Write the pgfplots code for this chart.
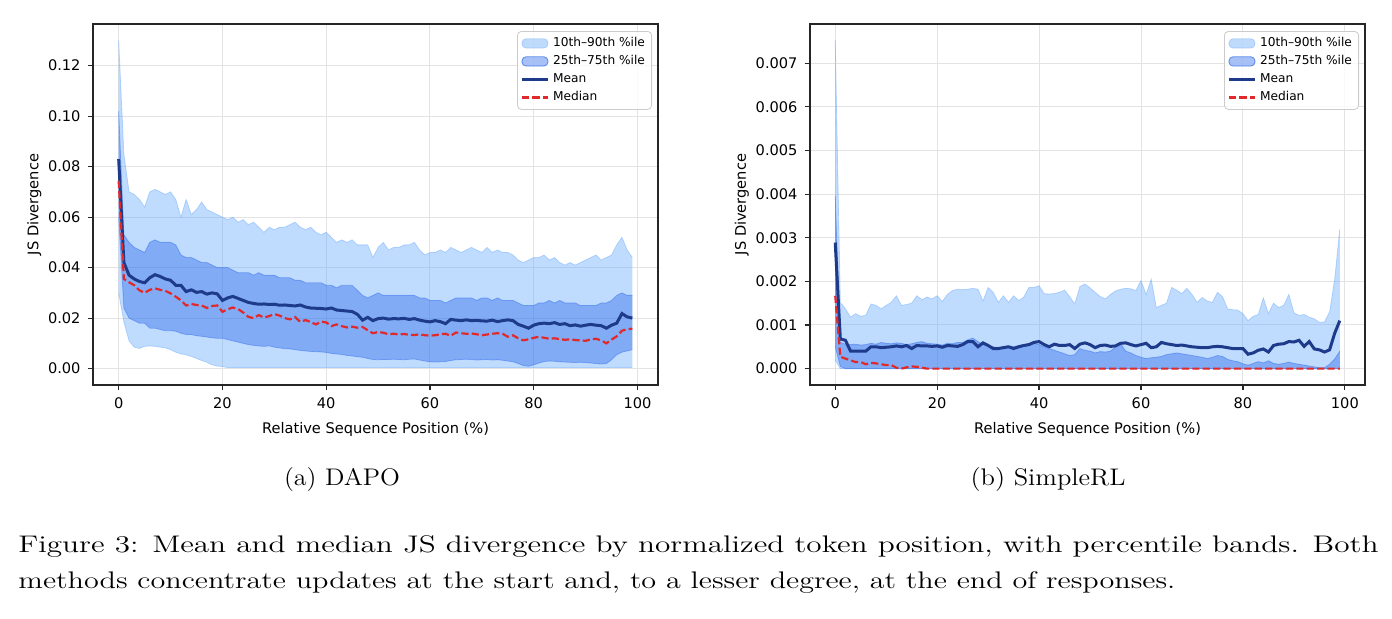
\documentclass[border=0pt]{standalone}
\usepackage{fontspec}
\usepackage{graphicx}
\usepackage{pgfplots}
\pgfplotsset{compat=1.18}
\usepackage{pgfplotstable}
\usepgfplotslibrary{fillbetween}

\newfontfamily\dejavu{DejaVu Sans}
\newcommand\tickfont{\dejavu\fontsize{7.3}{8.5}\selectfont}
\newcommand\legfont{\dejavu\fontsize{6.1}{7}\selectfont}

\definecolor{bandlo}{HTML}{60A5FA}
\definecolor{bandhi}{HTML}{2563EB}
\definecolor{meanc}{HTML}{1E3A8A}
\definecolor{medc}{RGB}{226,40,40}

% DAPO: percentiles, mean and median by relative position
\pgfplotstableread{
x p10 p25 mean med p75 p90
0 0.0300 0.0600 0.0830 0.0744 0.102 0.130
1 0.0185 0.0240 0.0420 0.0355 0.053 0.085
2 0.0110 0.0200 0.0370 0.0342 0.050 0.070
3 0.0085 0.0190 0.0355 0.0330 0.048 0.069
4 0.0080 0.0180 0.0345 0.0310 0.047 0.067
5 0.0088 0.0180 0.0340 0.0300 0.046 0.064
6 0.0090 0.0160 0.0360 0.0312 0.050 0.070
7 0.0088 0.0160 0.0372 0.0318 0.051 0.071
8 0.0085 0.0155 0.0365 0.0312 0.050 0.070
9 0.0082 0.0150 0.0355 0.0308 0.050 0.069
10 0.0075 0.0150 0.0350 0.0298 0.050 0.070
11 0.0065 0.0148 0.0330 0.0285 0.049 0.067
12 0.0058 0.0140 0.0330 0.0270 0.045 0.060
13 0.0055 0.0135 0.0305 0.0250 0.044 0.067
14 0.0048 0.0135 0.0312 0.0256 0.044 0.061
15 0.0040 0.0130 0.0302 0.0252 0.043 0.063
16 0.0032 0.0128 0.0305 0.0250 0.042 0.066
17 0.0025 0.0125 0.0295 0.0240 0.042 0.063
18 0.0015 0.0122 0.0300 0.0248 0.041 0.062
19 0.0010 0.0120 0.0296 0.0250 0.040 0.061
20 0.0008 0.0120 0.0270 0.0225 0.040 0.060
21 0.0004 0.0115 0.0280 0.0235 0.040 0.059
22 0.0004 0.0110 0.0286 0.0242 0.039 0.060
23 0.0004 0.0105 0.0278 0.0236 0.038 0.058
24 0.0004 0.0100 0.0270 0.0222 0.038 0.059
25 0.0004 0.0095 0.0262 0.0205 0.038 0.057
26 0.0004 0.0092 0.0258 0.0200 0.037 0.058
27 0.0004 0.0090 0.0255 0.0212 0.038 0.056
28 0.0004 0.0088 0.0256 0.0202 0.037 0.054
29 0.0004 0.0090 0.0254 0.0208 0.037 0.056
30 0.0004 0.0085 0.0255 0.0216 0.037 0.055
31 0.0004 0.0082 0.0251 0.0210 0.036 0.056
32 0.0004 0.0079 0.0252 0.0200 0.036 0.056
33 0.0004 0.0078 0.0250 0.0195 0.036 0.057
34 0.0004 0.0075 0.0248 0.0204 0.035 0.058
35 0.0004 0.0072 0.0252 0.0185 0.035 0.056
36 0.0004 0.0070 0.0244 0.0192 0.034 0.055
37 0.0004 0.0068 0.0240 0.0185 0.034 0.056
38 0.0004 0.0067 0.0239 0.0175 0.034 0.054
39 0.0004 0.0066 0.0238 0.0186 0.034 0.053
40 0.0004 0.0064 0.0236 0.0183 0.033 0.054
41 0.0004 0.0060 0.0240 0.0168 0.033 0.052
42 0.0004 0.0058 0.0232 0.0175 0.032 0.050
43 0.0004 0.0056 0.0230 0.0168 0.033 0.051
44 0.0004 0.0052 0.0228 0.0163 0.033 0.050
45 0.0004 0.0050 0.0226 0.0166 0.033 0.051
46 0.0004 0.0047 0.0215 0.0162 0.031 0.049
47 0.0004 0.0045 0.0192 0.0165 0.029 0.049
48 0.0004 0.0040 0.0203 0.0152 0.028 0.049
49 0.0004 0.0036 0.0190 0.0140 0.029 0.044
50 0.0004 0.0035 0.0198 0.0145 0.030 0.048
51 0.0004 0.0036 0.0200 0.0142 0.029 0.050
52 0.0004 0.0036 0.0196 0.0136 0.029 0.047
53 0.0004 0.0037 0.0198 0.0138 0.029 0.048
54 0.0004 0.0036 0.0197 0.0135 0.029 0.048
55 0.0004 0.0035 0.0199 0.0137 0.029 0.049
56 0.0004 0.0037 0.0195 0.0134 0.029 0.049
57 0.0004 0.0038 0.0198 0.0133 0.029 0.050
58 0.0004 0.0034 0.0192 0.0136 0.028 0.047
59 0.0004 0.0030 0.0188 0.0132 0.028 0.045
60 0.0004 0.0027 0.0185 0.0131 0.027 0.046
61 0.0004 0.0026 0.0190 0.0132 0.027 0.046
62 0.0004 0.0027 0.0186 0.0136 0.027 0.047
63 0.0004 0.0028 0.0178 0.0138 0.026 0.046
64 0.0004 0.0032 0.0195 0.0130 0.027 0.048
65 0.0004 0.0035 0.0192 0.0143 0.028 0.047
66 0.0004 0.0036 0.0190 0.0140 0.028 0.046
67 0.0004 0.0037 0.0193 0.0138 0.028 0.047
68 0.0004 0.0036 0.0190 0.0139 0.028 0.048
69 0.0004 0.0034 0.0191 0.0136 0.027 0.047
70 0.0004 0.0035 0.0189 0.0132 0.028 0.046
71 0.0004 0.0036 0.0188 0.0135 0.028 0.048
72 0.0004 0.0034 0.0192 0.0138 0.027 0.046
73 0.0004 0.0035 0.0186 0.0140 0.028 0.047
74 0.0004 0.0033 0.0190 0.0138 0.027 0.046
75 0.0004 0.0030 0.0193 0.0126 0.027 0.046
76 0.0004 0.0027 0.0190 0.0132 0.027 0.045
77 0.0004 0.0020 0.0175 0.0120 0.026 0.043
78 0.0004 0.0012 0.0168 0.0112 0.025 0.042
79 0.0004 0.0009 0.0160 0.0116 0.025 0.043
80 0.0004 0.0015 0.0172 0.0122 0.025 0.044
81 0.0004 0.0022 0.0178 0.0126 0.026 0.044
82 0.0004 0.0028 0.0180 0.0122 0.026 0.045
83 0.0004 0.0030 0.0178 0.0118 0.027 0.043
84 0.0004 0.0029 0.0182 0.0120 0.026 0.044
85 0.0004 0.0027 0.0175 0.0117 0.027 0.042
86 0.0004 0.0026 0.0178 0.0114 0.026 0.041
87 0.0004 0.0025 0.0170 0.0116 0.026 0.042
88 0.0004 0.0024 0.0173 0.0113 0.026 0.041
89 0.0004 0.0025 0.0168 0.0112 0.025 0.042
90 0.0004 0.0024 0.0172 0.0110 0.025 0.043
91 0.0004 0.0022 0.0175 0.0116 0.025 0.044
92 0.0004 0.0020 0.0172 0.0118 0.025 0.045
93 0.0004 0.0018 0.0170 0.0112 0.026 0.043
94 0.0004 0.0020 0.0160 0.0100 0.026 0.044
95 0.0004 0.0035 0.0172 0.0115 0.027 0.045
96 0.0004 0.0055 0.0180 0.0128 0.029 0.049
97 0.0004 0.0065 0.0218 0.0150 0.030 0.052
98 0.0004 0.0070 0.0205 0.0156 0.029 0.047
99 0.0004 0.0075 0.0200 0.0158 0.029 0.044
}\dapo

% SimpleRL: percentiles, mean and median by relative position
\pgfplotstableread{
x p10 p25 mean med p75 p90
0 0.0002 0.0005 0.00289 0.00167 0.00396 0.00753
1 0 0.00005 0.00068 0.00027 0.00060 0.00152
2 0 0 0.00065 0.00023 0.00056 0.00137
3 0 0 0.00040 0.00019 0.00055 0.00118
4 0 0 0.00040 0.00015 0.00056 0.00126
5 0 0 0.00040 0.00015 0.00054 0.00120
6 0 0 0.00040 0.00010 0.00055 0.00122
7 0 0 0.00050 0.00013 0.00058 0.00148
8 0 0 0.00050 0.00012 0.00056 0.00145
9 0 0 0.00048 0.00010 0.00060 0.00137
10 0 0 0.00049 0.00008 0.00058 0.00145
11 0 0 0.00050 0.00008 0.00057 0.00152
12 0 0 0.00052 0.00002 0.00059 0.00167
13 0 0 0.00050 0.00000 0.00058 0.00145
14 0 0 0.00053 0.00003 0.00055 0.00147
15 0 0 0.00046 0.00005 0.00057 0.00150
16 0 0 0.00053 0.00004 0.00060 0.00167
17 0 0 0.00052 0.00002 0.00062 0.00158
18 0 0 0.00052 0 0.00058 0.00164
19 0 0 0.00051 0 0.00057 0.00160
20 0 0 0.00052 0 0.00056 0.00167
21 0 0 0.00049 0 0.00054 0.00154
22 0 0 0.00053 0 0.00058 0.00170
23 0 0 0.00052 0 0.00057 0.00179
24 0 0 0.00051 0 0.00060 0.00182
25 0 0 0.00055 0 0.00060 0.00181
26 0 0 0.00062 0 0.00066 0.00182
27 0 0 0.00062 0 0.00070 0.00184
28 0 0 0.00050 0 0.00062 0.00182
29 0 0 0.00059 0 0.00055 0.00155
30 0 0 0.00053 0 0.00052 0.00186
31 0 0 0.00046 0 0.00050 0.00175
32 0 0 0.00046 0 0.00048 0.00152
33 0 0 0.00048 0 0.00050 0.00167
34 0 0 0.00050 0 0.00052 0.00152
35 0 0 0.00046 0 0.00050 0.00167
36 0 0 0.00050 0 0.00053 0.00156
37 0 0 0.00053 0 0.00055 0.00164
38 0 0 0.00055 0 0.00057 0.00186
39 0 0 0.00060 0 0.00058 0.00186
40 0 0 0.00062 0 0.00055 0.00190
41 0 0 0.00055 0 0.00050 0.00172
42 0 0 0.00050 0 0.00046 0.00171
43 0 0 0.00056 0 0.00042 0.00172
44 0 0 0.00053 0 0.00038 0.00175
45 0 0 0.00053 0 0.00034 0.00180
46 0 0 0.00055 0 0.00030 0.00165
47 0 0 0.00046 0 0.00032 0.00148
48 0 0 0.00056 0 0.00046 0.00188
49 0 0 0.00059 0 0.00042 0.00194
50 0 0 0.00055 0 0.00040 0.00185
51 0 0 0.00048 0 0.00036 0.00175
52 0 0 0.00053 0 0.00039 0.00165
53 0 0 0.00054 0 0.00038 0.00160
54 0 0 0.00051 0 0.00040 0.00170
55 0 0 0.00052 0 0.00050 0.00178
56 0 0 0.00058 0 0.00057 0.00182
57 0 0 0.00059 0 0.00040 0.00184
58 0 0 0.00055 0 0.00036 0.00183
59 0 0 0.00052 0 0.00030 0.00179
60 0 0 0.00055 0 0.00026 0.00202
61 0 0 0.00058 0 0.00023 0.00170
62 0 0 0.00048 0 0.00025 0.00205
63 0 0 0.00050 0 0.00026 0.00140
64 0 0 0.00060 0 0.00028 0.00145
65 0 0 0.00057 0 0.00032 0.00150
66 0 0 0.00055 0 0.00034 0.00186
67 0 0 0.00053 0 0.00036 0.00180
68 0 0 0.00054 0 0.00034 0.00172
69 0 0 0.00052 0 0.00032 0.00184
70 0 0 0.00050 0 0.00030 0.00170
71 0 0 0.00049 0 0.00028 0.00152
72 0 0 0.00048 0 0.00026 0.00163
73 0 0 0.00048 0 0.00023 0.00155
74 0 0 0.00050 0 0.00026 0.00152
75 0 0 0.00051 0 0.00030 0.00175
76 0 0 0.00050 0 0.00028 0.00165
77 0 0 0.00048 0 0.00021 0.00137
78 0 0 0.00046 0 0.00018 0.00135
79 0 0 0.00046 0 0.00016 0.00134
80 0 0 0.00046 0 0.00011 0.00126
81 0 0 0.00033 0 0.00008 0.00110
82 0 0 0.00036 0 0.00012 0.00120
83 0 0 0.00042 0 0.00016 0.00124
84 0 0 0.00045 0 0.00013 0.00162
85 0 0 0.00038 0 0.00018 0.00126
86 0 0 0.00053 0 0.00012 0.00150
87 0 0 0.00056 0 0.00010 0.00140
88 0 0 0.00057 0 0.00012 0.00145
89 0 0 0.00062 0 0.00015 0.00170
90 0 0 0.00061 0 0.00012 0.00128
91 0 0 0.00065 0 0.00010 0.00122
92 0 0 0.00051 0 0.00008 0.00124
93 0 0 0.00062 0 0.00006 0.00118
94 0 0 0.00045 0 0.00004 0.00114
95 0 0 0.00043 0 0.00002 0.00106
96 0 0 0.00038 0 0.00002 0.00107
97 0 0 0.00043 0 0.00010 0.00130
98 0 0 0.00081 0 0.00022 0.00205
99 0 0 0.00110 0 0.00040 0.00319
}\simplerl

\pgfplotsset{
  jsaxis/.style={
    scale only axis,
    anchor=south west,
    height=180.5pt,
    xmin=-4.95, xmax=103.95,
    xtick={0,20,40,60,80,100},
    grid=major,
    major grid style={draw=black!11, line width=0.5pt},
    axis line style={draw=black!85, line width=0.6pt},
    tick style={draw=black!85, line width=0.6pt},
    tick align=outside,
    major tick length=2.7pt,
    xtick pos=bottom, ytick pos=left,
    /pgf/number format/assume math mode=true,
    tick label style={font=\tickfont},
    label style={font=\tickfont},
    xlabel={Relative Sequence Position (\%)},
    ylabel={JS Divergence},
    ylabel style={yshift=-3.5pt},
    scaled y ticks=false,
    legend cell align=left,
    legend style={
      at={(1,1)}, anchor=north east, xshift=-3pt, yshift=-3.5pt,
      draw=black!20, fill=white, fill opacity=0.8, text opacity=1, draw opacity=1,
      rounded corners=2pt, font=\legfont,
      inner xsep=1.5pt, inner ysep=1.5pt, row sep=0pt, column sep=0pt,
      nodes={inner xsep=1.8pt, inner ysep=1.55pt, text height=4.6pt, text depth=1.3pt},
    },
  },
  bandedge/.style={draw=#1, draw opacity=0.4, line width=0.4pt, forget plot},
}

\newcommand\legendentries{%
  \addlegendimage{legend image code/.code={\fill[bandlo, opacity=0.4] (0pt,-2.3pt) rectangle (13pt,2.3pt);}}
  \addlegendentry{10th–90th \%ile}
  \addlegendimage{legend image code/.code={\fill[bandhi, opacity=0.4] (0pt,-2.3pt) rectangle (13pt,2.3pt);\draw[bandhi, opacity=0.4, line width=0.4pt] (0pt,-2.3pt) rectangle (13pt,2.3pt);}}
  \addlegendentry{25th–75th \%ile}
  \addlegendimage{legend image code/.code={\draw[meanc, line width=1.5pt] (0pt,0pt) -- (13pt,0pt);}}
  \addlegendentry{Mean}
  \addlegendimage{legend image code/.code={\draw[medc, line width=1.1pt, dash pattern=on 3.6pt off 1.6pt] (0pt,0pt) -- (13pt,0pt);}}
  \addlegendentry{Median}%
}

\begin{document}
\begin{tikzpicture}

% (a) DAPO
\begin{axis}[jsaxis,
  at={(46.5pt,116.5pt)}, width=282.5pt,
  ymin=-0.0065, ymax=0.1365,
  ytick={0,0.02,0.04,0.06,0.08,0.10,0.12},
  yticklabel style={/pgf/number format/.cd, fixed, fixed zerofill, precision=2},
]
\addplot[bandedge=bandlo, name path=a90] table[x=x, y=p90] {\dapo};
\addplot[bandedge=bandlo, name path=a10] table[x=x, y=p10] {\dapo};
\addplot[fill=bandlo, fill opacity=0.4, draw=none, forget plot] fill between[of=a90 and a10];
\addplot[bandedge=bandhi, name path=a75] table[x=x, y=p75] {\dapo};
\addplot[bandedge=bandhi, name path=a25] table[x=x, y=p25] {\dapo};
\addplot[fill=bandhi, fill opacity=0.4, draw=none, forget plot] fill between[of=a75 and a25];
\addplot[meanc, line width=1.5pt, forget plot] table[x=x, y=mean] {\dapo};
\addplot[medc, line width=1.1pt, dash pattern=on 3.6pt off 1.6pt, forget plot] table[x=x, y=med] {\dapo};
\legendentries
\end{axis}

% (b) SimpleRL
\begin{axis}[jsaxis,
  at={(405pt,116.5pt)}, width=277.5pt,
  ymin=-0.000376, ymax=0.0079,
  ytick={0,0.001,0.002,0.003,0.004,0.005,0.006,0.007},
  yticklabel style={/pgf/number format/.cd, fixed, fixed zerofill, precision=3},
]
\addplot[bandedge=bandlo, name path=b90] table[x=x, y=p90] {\simplerl};
\addplot[bandedge=bandlo, name path=b10] table[x=x, y=p10] {\simplerl};
\addplot[fill=bandlo, fill opacity=0.4, draw=none, forget plot] fill between[of=b90 and b10];
\addplot[bandedge=bandhi, name path=b75] table[x=x, y=p75] {\simplerl};
\addplot[bandedge=bandhi, name path=b25] table[x=x, y=p25] {\simplerl};
\addplot[fill=bandhi, fill opacity=0.4, draw=none, forget plot] fill between[of=b75 and b25];
\addplot[meanc, line width=1.5pt, forget plot] table[x=x, y=mean] {\simplerl};
\addplot[medc, line width=1.1pt, dash pattern=on 3.6pt off 1.6pt, forget plot] table[x=x, y=med] {\simplerl};
\legendentries
\end{axis}

% sub-captions and figure caption
\node[anchor=base] at (171pt,66.5pt) {\resizebox{58pt}{\height}{\fontsize{12}{14}\selectfont (a) DAPO}};
\node[anchor=base] at (524pt,66.5pt) {\resizebox{77.5pt}{\height}{\fontsize{12}{14}\selectfont (b) SimpleRL}};
\node[anchor=base west, inner sep=0pt] at (9pt,33pt) {\resizebox{680pt}{\height}{\fontsize{12}{14}\selectfont Figure 3: Mean and median JS divergence by normalized token position, with percentile bands. Both}};
\node[anchor=base west, inner sep=0pt] at (9pt,15pt) {\resizebox{578.5pt}{\height}{\fontsize{12}{14}\selectfont methods concentrate updates at the start and, to a lesser degree, at the end of responses.}};

% page frame
\pgfresetboundingbox
\useasboundingbox (0,0) rectangle (696pt,309pt);
\end{tikzpicture}
\end{document}
